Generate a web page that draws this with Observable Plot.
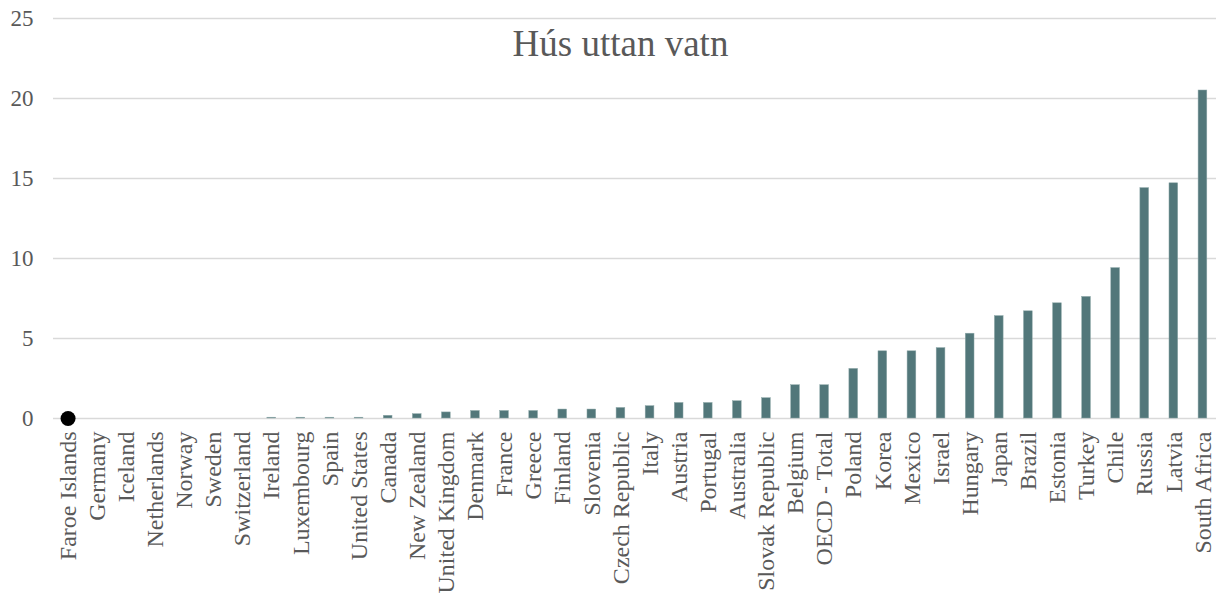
<!DOCTYPE html>
<html>
<head>
<meta charset="utf-8">
<script src="https://cdn.jsdelivr.net/npm/d3@7"></script>
<script src="https://cdn.jsdelivr.net/npm/@observablehq/plot@0.6"></script>
<style>
  body { margin: 0; background: #fff; }
  svg { display: block; overflow: visible; }
</style>
</head>
<body>
<div id="chart"></div>
<script>
const countries = ["Faroe Islands","Germany","Iceland","Netherlands","Norway","Sweden","Switzerland","Ireland","Luxembourg","Spain","United States","Canada","New Zealand","United Kingdom","Denmark","France","Greece","Finland","Slovenia","Czech Republic","Italy","Austria","Portugal","Australia","Slovak Republic","Belgium","OECD - Total","Poland","Korea","Mexico","Israel","Hungary","Japan","Brazil","Estonia","Turkey","Chile","Russia","Latvia","South Africa"];
const values = [0,0,0,0,0,0,0,0.05,0.05,0.05,0.05,0.17,0.27,0.38,0.47,0.47,0.47,0.56,0.56,0.66,0.77,0.97,0.97,1.08,1.27,2.08,2.08,3.1,4.2,4.2,4.4,5.3,6.4,6.7,7.2,7.6,9.4,14.4,14.7,20.5];
const highlight = ["Faroe Islands"];
const yTicks = [0,5,10,15,20,25];
const title = "Hús uttan vatn";

const data = countries.map((c, i) => ({country: c, value: values[i]}));
const dots = data.filter(d => highlight.includes(d.country));

const chart = Plot.plot({
  width: 1216,
  height: 599,
  marginLeft: 53,
  marginRight: -1,
  marginTop: 18,
  marginBottom: 181,
  style: {fontFamily: "'Liberation Serif', 'Times New Roman', serif", fontSize: "24px", color: "#595959", background: "#fff"},
  x: {domain: countries, paddingInner: 0.7, paddingOuter: 0.35, round: false, label: null},
  y: {domain: [0, 25], label: null},
  marks: [
    Plot.ruleY(yTicks, {stroke: "#d9d9d9", strokeWidth: 1.5}),
    Plot.barY(data, {x: "country", y: "value", fill: "#52777a", stroke: "#8fa9aa", strokeWidth: 0.5}),
    Plot.dot(dots, {x: "country", y: "value", r: 7.5, fill: "#000", stroke: "none"}),
    Plot.axisY({ticks: yTicks, tickSize: 0, tickPadding: 20, fontSize: 23, fill: "#595959"}),
    Plot.axisX({tickSize: 0, tickPadding: 13, tickRotate: -90, fontSize: 24, fill: "#595959"}),
    Plot.text([title], {frameAnchor: "top", lineAnchor: "middle", dy: 26, dx: -15, fontSize: 37, fill: "#595959"})
  ]
});
document.getElementById("chart").appendChild(chart);
</script>
</body>
</html>
